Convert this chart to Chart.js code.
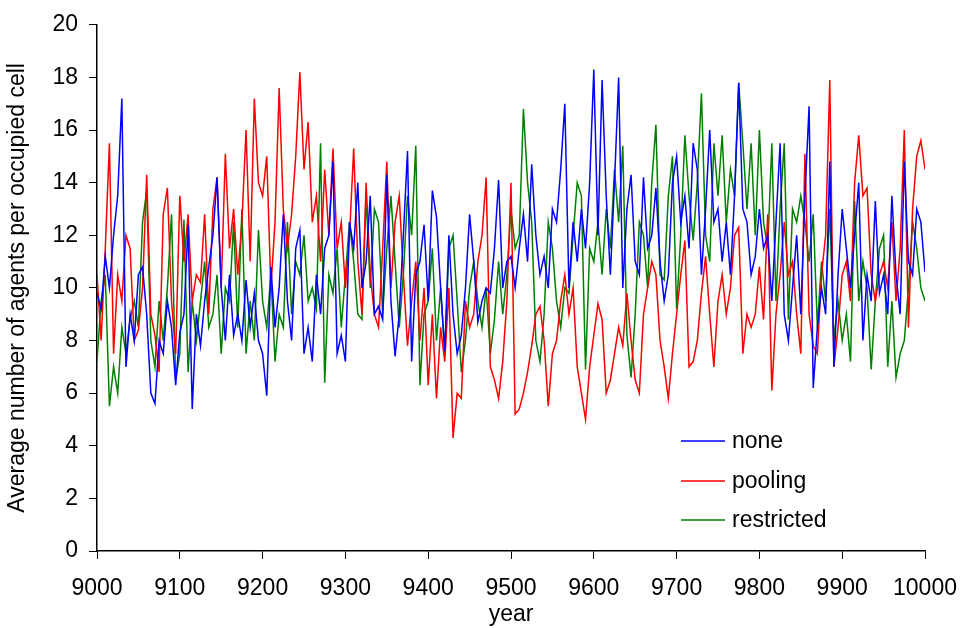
<!DOCTYPE html>
<html>
<head>
<meta charset="utf-8">
<script src="https://cdn.jsdelivr.net/npm/chart.js@4"></script>
<style>
  html, body { margin: 0; padding: 0; background: #fff; }
  #wrap { width: 961px; height: 628px; }
</style>
</head>
<body>
<div id="wrap"><canvas id="lineChart1" width="961" height="628"></canvas></div>
<script>
// one value every 5 years, 9000 .. 10000
const firstYear = 9000;
const yearStep = 5;

const none = [
  9.8, 9.2, 11.2, 10.0, 12.0, 13.5, 17.2, 7.0, 9.0, 8.0, 10.5, 10.8, 9.0, 6.0, 5.6, 8.0, 7.5, 9.5, 8.5, 6.3,
  8.3, 9.0, 12.4, 5.4, 9.0, 7.8, 9.5, 10.8, 12.0, 14.2, 10.0, 8.0, 10.5, 8.2, 9.0, 8.0, 10.3, 8.5, 9.8, 8.0,
  7.5, 5.9, 10.8, 8.5, 10.0, 12.8, 9.5, 8.0, 11.5, 12.2, 7.5, 8.5, 7.2, 10.5, 9.0, 11.5, 12.0, 14.8, 7.5, 8.2,
  7.2, 12.5, 11.5, 14.0, 10.0, 11.0, 13.5, 9.0, 9.3, 8.8, 14.3, 9.5, 7.4, 9.0, 12.0, 15.2, 7.2, 10.5, 11.0, 12.4,
  9.5, 13.7, 12.7, 10.0, 7.6, 12.0, 9.0, 7.5, 8.2, 10.0, 12.8, 11.0, 8.7, 9.5, 10.0, 9.8, 11.5, 14.1, 10.0, 11.0,
  11.2, 10.0, 11.5, 12.8, 11.0, 14.7, 12.0, 10.5, 11.2, 10.0, 13.0, 12.5, 14.5, 17.0, 10.0, 12.5, 11.0, 13.0, 11.5, 14.0,
  18.3, 12.0, 17.9, 13.5, 10.5, 14.0, 18.0, 10.0, 13.0, 14.3, 11.0, 10.5, 14.2, 11.5, 12.0, 13.8, 11.0, 9.5, 10.5, 14.0,
  15.0, 12.5, 13.5, 11.5, 15.5, 14.5, 10.5, 13.0, 16.0, 12.5, 13.0, 11.0, 12.5, 10.5, 13.5, 17.8, 13.0, 12.5, 10.5, 11.2,
  13.0, 11.5, 12.0, 9.5, 12.5, 15.5, 9.0, 8.0, 10.0, 12.0, 9.0, 13.5, 16.9, 6.2, 8.5, 10.0, 9.0, 14.8, 7.0, 10.5,
  13.0, 11.5, 10.0, 12.0, 14.0, 8.0, 10.5, 9.5, 13.3, 9.8, 10.5, 9.0, 13.5, 10.5, 9.0, 14.8, 11.0, 10.5, 13.0, 12.5,
  10.6
];

const pooling = [
  10.5, 8.0, 11.5, 15.5, 7.5, 10.5, 9.5, 12.0, 11.5, 8.0, 8.4, 10.0, 14.3, 9.0, 8.2, 6.8, 12.8, 13.8, 9.5, 7.5,
  13.5, 11.0, 12.8, 9.5, 10.5, 10.2, 12.8, 9.0, 13.0, 14.2, 10.0, 15.1, 11.5, 13.0, 10.5, 12.5, 16.0, 11.0, 17.2, 14.0,
  13.5, 15.0, 10.0, 12.5, 17.6, 13.0, 11.5, 12.8, 15.0, 18.2, 14.5, 16.3, 12.5, 13.5, 11.0, 14.5, 12.0, 15.3, 11.5, 12.5,
  10.0, 12.0, 15.3, 11.0, 9.0, 14.0, 10.5, 9.0, 8.5, 11.5, 14.8, 10.0, 12.5, 13.5, 10.5, 7.8, 9.5, 11.0, 8.0, 10.0,
  6.3, 9.0, 5.8, 8.5, 7.2, 10.0, 4.3, 6.0, 5.8, 9.5, 8.5, 9.0, 11.0, 12.0, 14.2, 7.0, 6.5, 5.8, 7.2, 9.5,
  14.0, 5.2, 5.4, 6.0, 6.8, 7.8, 9.0, 9.3, 8.0, 5.5, 7.5, 8.0, 9.5, 10.5, 9.0, 10.0, 7.0, 6.0, 5.0, 7.0,
  8.2, 9.4, 8.8, 6.0, 6.5, 7.5, 8.5, 7.8, 9.8, 8.0, 6.5, 6.0, 9.0, 10.0, 11.0, 10.5, 8.0, 7.0, 5.8, 7.5,
  9.0, 10.5, 11.8, 7.0, 7.2, 8.0, 9.8, 11.2, 9.0, 7.0, 9.5, 10.5, 9.0, 10.0, 12.0, 12.3, 7.5, 9.0, 8.5, 9.0,
  10.8, 8.8, 12.8, 6.1, 9.0, 10.5, 12.5, 10.5, 11.0, 9.0, 7.5, 15.1, 9.0, 7.8, 7.5, 10.5, 12.0, 17.9, 7.0, 8.5,
  10.5, 11.0, 9.5, 14.0, 15.8, 13.5, 13.8, 10.5, 9.5, 10.5, 11.0, 10.0, 12.5, 9.5, 11.5, 16.0, 8.5, 13.0, 15.0, 15.6,
  14.5
];

const restricted = [
  7.2, 9.5, 10.5, 5.5, 7.0, 6.0, 8.5, 7.5, 8.8, 9.5, 8.5, 12.5, 13.7, 8.0, 7.0, 9.5, 8.0, 10.0, 12.8, 6.5,
  7.5, 12.6, 6.8, 9.5, 8.0, 9.5, 11.0, 8.5, 9.0, 10.5, 7.5, 10.0, 9.5, 12.5, 8.5, 13.0, 7.5, 9.5, 8.0, 12.2,
  9.5, 8.5, 10.5, 7.2, 9.0, 8.5, 12.5, 9.0, 11.0, 10.5, 12.0, 9.5, 10.0, 9.2, 15.5, 6.4, 10.5, 9.8, 11.5, 8.5,
  10.5, 12.5, 11.0, 9.0, 8.8, 13.5, 10.0, 13.0, 12.5, 9.0, 11.5, 13.5, 11.0, 8.5, 10.5, 13.5, 12.0, 15.4, 6.3, 9.0,
  9.5, 11.5, 8.0, 10.0, 7.5, 11.5, 12.0, 9.5, 6.8, 8.0, 10.0, 11.0, 9.5, 8.5, 10.0, 7.5, 8.8, 11.0, 9.0, 10.5,
  13.0, 11.5, 12.0, 16.8, 14.0, 12.5, 8.0, 7.2, 9.0, 12.5, 11.5, 9.5, 8.5, 10.0, 9.8, 12.0, 14.0, 13.5, 6.9, 11.5,
  11.0, 12.5, 10.5, 13.0, 11.5, 14.5, 12.5, 15.4, 8.2, 6.6, 9.0, 12.5, 12.0, 10.0, 14.0, 16.2, 10.5, 10.3, 13.5, 15.0,
  9.2, 12.0, 15.8, 13.5, 11.8, 14.0, 17.4, 12.0, 11.0, 15.5, 13.5, 15.8, 12.5, 14.5, 13.5, 17.8, 15.5, 13.0, 15.5, 12.0,
  16.0, 12.5, 11.5, 15.5, 9.5, 13.0, 15.5, 8.8, 13.0, 12.5, 13.5, 12.5, 11.0, 12.8, 8.5, 11.0, 9.5, 13.0, 8.0, 9.5,
  8.0, 9.0, 7.2, 13.3, 9.5, 11.0, 10.0, 6.9, 9.5, 11.5, 12.0, 7.0, 9.5, 6.6, 7.5, 8.0, 10.0, 12.5, 11.5, 10.0,
  9.5
];

const years = none.map((v, i) => firstYear + i * yearStep);
const toPoints = (vals) => vals.map((v, i) => ({ x: years[i], y: v }));

const font = { family: "'Liberation Sans', Arial, sans-serif", size: 23 };

// legend sits inside the plot, bottom right, like the original
const insideLegend = {
  id: "insideLegend",
  afterDraw(chart) {
    const c = chart.ctx;
    const x0 = 681, x1 = 725, tx = 732;
    const rows = [441, 481, 520];
    c.save();
    c.font = font.size + "px " + font.family;
    c.textBaseline = "middle";
    c.fillStyle = "#000";
    chart.data.datasets.forEach((ds, i) => {
      c.strokeStyle = ds.borderColor;
      c.lineWidth = 1.5;
      c.beginPath();
      c.moveTo(x0, rows[i]);
      c.lineTo(x1, rows[i]);
      c.stroke();
      c.fillText(ds.label, tx, rows[i] + 1);
    });
    c.restore();
  },
};

const ctx = document.getElementById("lineChart1");

new Chart(ctx, {
  type: "line",
  data: {
    datasets: [
      { label: "none", data: toPoints(none), borderColor: "#0000FF" },
      { label: "pooling", data: toPoints(pooling), borderColor: "#FF0000" },
      { label: "restricted", data: toPoints(restricted), borderColor: "#008000" },
    ],
  },
  options: {
    responsive: false,
    animation: false,
    layout: { padding: { top: 22, right: 0, left: 4, bottom: 0 } },
    elements: {
      line: { borderWidth: 1.5, tension: 0 },
      point: { radius: 0 },
    },
    scales: {
      x: {
        type: "linear",
        min: 9000,
        max: 10000,
        ticks: { stepSize: 100, color: "#000", font: font, padding: 16, maxRotation: 0, callback: (v) => v },
        grid: { drawOnChartArea: false, tickLength: 8, color: "#000" },
        border: { color: "#000", width: 1.5 },
        title: { display: true, text: "year", color: "#000", font: font, padding: 0 },
        afterFit: (s) => { s.height = 77; s.paddingLeft = 0; s.paddingRight = 36; },
      },
      y: {
        min: 0,
        max: 20,
        ticks: { stepSize: 2, color: "#000", font: font, padding: 11 },
        grid: { drawOnChartArea: false, tickLength: 8, color: "#000" },
        border: { color: "#000", width: 1.5 },
        title: { display: true, text: "Average number of agents per occupied cell", color: "#000", font: font, padding: 0 },
        afterFit: (s) => { s.width = 93; },
      },
    },
    plugins: {
      legend: { display: false },
      tooltip: { enabled: false },
    },
  },
  plugins: [insideLegend],
});
</script>
</body>
</html>
